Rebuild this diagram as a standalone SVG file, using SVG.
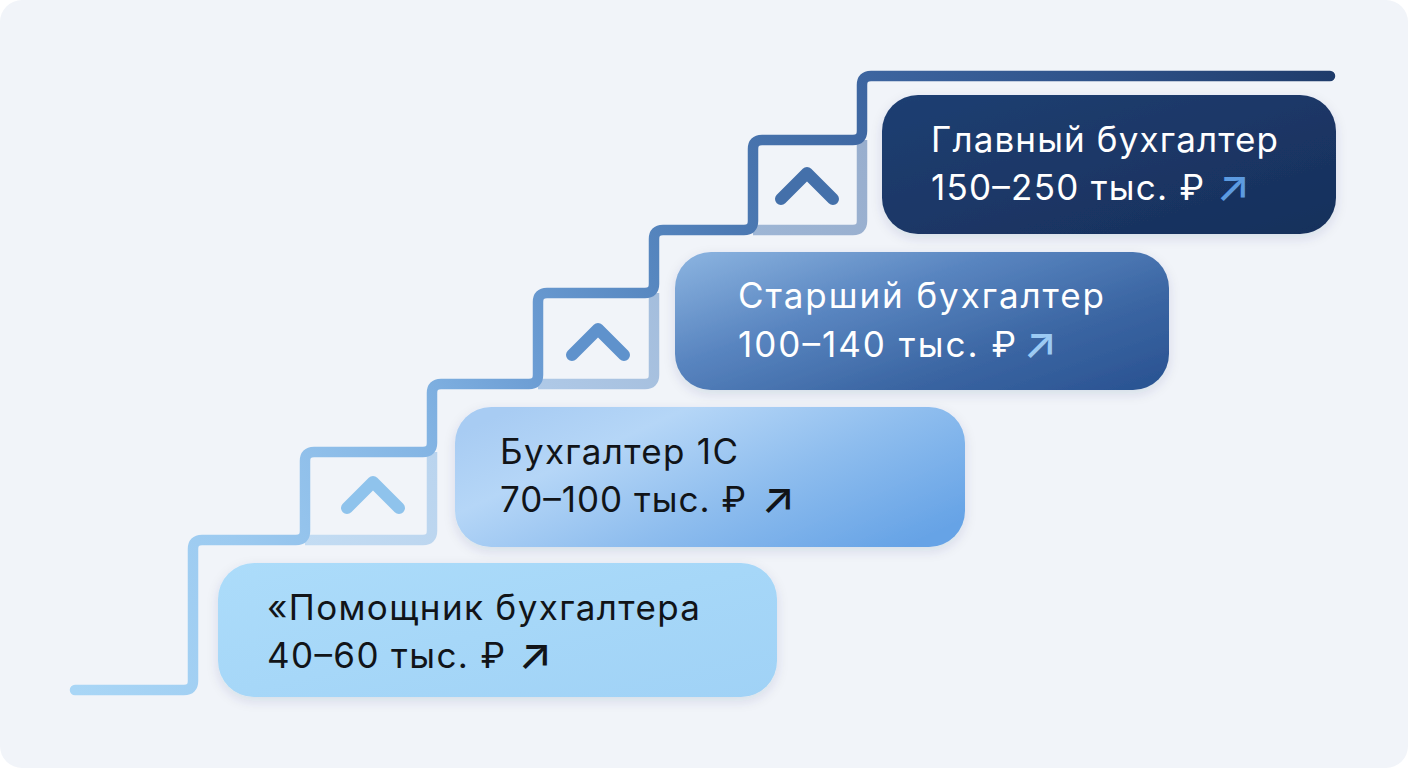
<svg xmlns="http://www.w3.org/2000/svg" width="1408" height="768" viewBox="0 0 1408 768">
  <defs>
    <linearGradient id="stair" gradientUnits="userSpaceOnUse" x1="75" y1="690" x2="1330" y2="76">
      <stop offset="0" stop-color="#a9d6f6"/>
      <stop offset="0.15" stop-color="#9ccaf0"/>
      <stop offset="0.3" stop-color="#84b5e4"/>
      <stop offset="0.4" stop-color="#6b9cd3"/>
      <stop offset="0.5" stop-color="#5787c0"/>
      <stop offset="0.6" stop-color="#4874ae"/>
      <stop offset="0.7" stop-color="#3d65a0"/>
      <stop offset="0.85" stop-color="#2f5289"/>
      <stop offset="1" stop-color="#1f3c6b"/>
    </linearGradient>
    <linearGradient id="g1" x1="0" y1="0" x2="1" y2="1">
      <stop offset="0" stop-color="#acdcfa"/>
      <stop offset="1" stop-color="#a0d2f6"/>
    </linearGradient>
    <linearGradient id="g2" x1="0" y1="0.2" x2="1" y2="0.8">
      <stop offset="0" stop-color="#a8ccf3"/>
      <stop offset="0.25" stop-color="#b5d6f7"/>
      <stop offset="0.6" stop-color="#8ebdee"/>
      <stop offset="1" stop-color="#66a3e6"/>
    </linearGradient>
    <linearGradient id="g3" x1="0" y1="0.1" x2="1" y2="0.9">
      <stop offset="0" stop-color="#86afdd"/>
      <stop offset="0.35" stop-color="#5985c0"/>
      <stop offset="0.7" stop-color="#3b66a3"/>
      <stop offset="1" stop-color="#2b5493"/>
    </linearGradient>
    <linearGradient id="g4" x1="0" y1="0" x2="1" y2="1">
      <stop offset="0" stop-color="#1f3f72"/>
      <stop offset="1" stop-color="#172f5b"/>
    </linearGradient>
    <filter id="sh" x="-10%" y="-20%" width="120%" height="150%">
      <feDropShadow dx="0" dy="4" stdDeviation="6" flood-color="#1f3c6b" flood-opacity="0.12"/>
    </filter>
    <style>
      .stair{fill:none;stroke:url(#stair);stroke-width:10.5;stroke-linecap:round;stroke-linejoin:round}
      .close{fill:none;stroke:url(#stair);stroke-width:10.5;stroke-linecap:butt;stroke-linejoin:round;opacity:0.5}
      .chev{fill:none;stroke-width:12;stroke-linecap:round;stroke-linejoin:round}
      .t{font-family:Inter,"Noto Sans",sans-serif;font-size:35px}
      .ar{font-family:Inter,"DejaVu Sans",sans-serif;font-size:44px;font-weight:500}
      .dark{fill:#111418}
      .light{fill:#ffffff}
    </style>
  </defs>

  <rect x="0" y="0" width="1408" height="768" fill="#ffffff"/>
  <rect x="0" y="0" width="1408" height="768" rx="22" fill="#f1f4f9"/>

  <g id="connectors">
    <path class="close" d="M305,540 H423 Q432,540 432,531 V452"/>
    <path class="close" d="M538,384 H645 Q654,384 654,375 V293"/>
    <path class="close" d="M753,230 H853 Q862,230 862,221 V140"/>
    <path class="stair" d="M75,690 H184 Q193,690 193,681 V549 Q193,540 202,540 H296 Q305,540 305,531 V461 Q305,452 314,452 H423 Q432,452 432,443 V393 Q432,384 441,384 H529 Q538,384 538,375 V302 Q538,293 547,293 H645 Q654,293 654,284 V239 Q654,230 663,230 H744 Q753,230 753,221 V149 Q753,140 762,140 H853 Q862,140 862,131 V85 Q862,76 871,76 H1330"/>
    <path class="chev" stroke="#8fc3ec" d="M347,508 L373,482 L399,508"/>
    <path class="chev" stroke="#5f92cc" d="M572,355 L598,329 L624,355"/>
    <path class="chev" stroke="#4470aa" d="M781,199 L807,173 L833,199"/>
  </g>

  <g id="node-assistant">
    <rect x="218" y="563" width="559" height="134" rx="36" fill="url(#g1)" filter="url(#sh)"/>
    <text class="t dark" x="267" y="620" textLength="433" lengthAdjust="spacing">«Помощник бухгалтера</text>
    <text class="t dark" x="267" y="668" textLength="238" lengthAdjust="spacing">40–60 тыс. ₽</text>
    <text class="ar dark" x="518" y="669">↗</text>
  </g>

  <g id="node-1c">
    <rect x="455" y="407" width="510" height="140" rx="36" fill="url(#g2)" filter="url(#sh)"/>
    <text class="t dark" x="500" y="464" textLength="238" lengthAdjust="spacing">Бухгалтер 1С</text>
    <text class="t dark" x="500" y="512" textLength="246" lengthAdjust="spacing">70–100 тыс. ₽</text>
    <text class="ar dark" x="761" y="513">↗</text>
  </g>

  <g id="node-senior">
    <rect x="675" y="252" width="494" height="138" rx="36" fill="url(#g3)" filter="url(#sh)"/>
    <text class="t light" x="738" y="308" textLength="366" lengthAdjust="spacing">Старший бухгалтер</text>
    <text class="t light" x="738" y="357" textLength="278" lengthAdjust="spacing">100–140 тыс. ₽</text>
    <text class="ar" x="1023" y="358" fill="#9ccaf3">↗</text>
  </g>

  <g id="node-chief">
    <rect x="882" y="95" width="454" height="139" rx="36" fill="url(#g4)" filter="url(#sh)"/>
    <text class="t light" x="931" y="152" textLength="347" lengthAdjust="spacing">Главный бухгалтер</text>
    <text class="t light" x="931" y="200" textLength="273" lengthAdjust="spacing">150–250 тыс. ₽</text>
    <text class="ar" x="1216" y="201" fill="#5c9be0">↗</text>
  </g>
</svg>
